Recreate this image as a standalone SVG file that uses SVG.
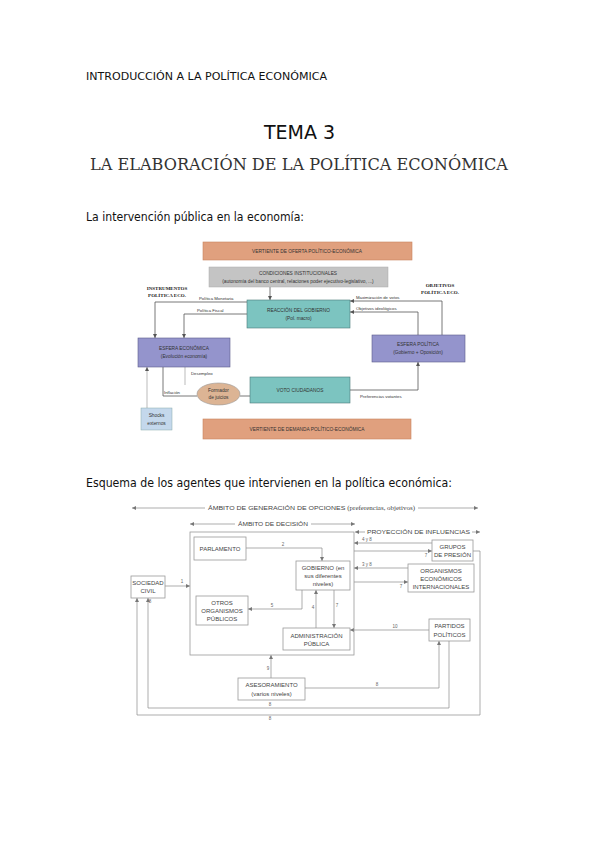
<svg xmlns="http://www.w3.org/2000/svg" width="599" height="848" viewBox="0 0 599 848">
<style>
.h{font-family:"DejaVu Sans",sans-serif;fill:#111}
.t{font-family:"Liberation Sans",Arial,sans-serif;fill:#333;font-size:4.8px;text-anchor:middle}
.ts{font-family:"Liberation Sans",Arial,sans-serif;fill:#333;font-size:4.3px}
.tb{font-family:"Liberation Serif",serif;font-weight:bold;fill:#222;font-size:5px;text-anchor:middle}
.b{font-family:"Liberation Sans",Arial,sans-serif;fill:#444;font-size:6px;text-anchor:middle}
.bs{font-family:"Liberation Sans",Arial,sans-serif;fill:#444;font-size:6px}
.n{font-family:"Liberation Sans",Arial,sans-serif;fill:#666;font-size:4.5px;text-anchor:middle}
.ln{fill:none;stroke:#555;stroke-width:0.8}
.ll{fill:none;stroke:#aaa;stroke-width:0.8}
.g{fill:none;stroke:#8a8a8a;stroke-width:0.7}
.bx{fill:#fff;stroke:#999;stroke-width:0.8}
</style>
<defs>
<marker id="a" viewBox="0 0 6 6" refX="6" refY="3" markerWidth="4" markerHeight="4" markerUnits="userSpaceOnUse" orient="auto"><path d="M0,0L6,3L0,6z" fill="#555"/></marker>
<marker id="ag" viewBox="0 0 6 6" refX="6" refY="3" markerWidth="4" markerHeight="4" markerUnits="userSpaceOnUse" orient="auto"><path d="M0,0L6,3L0,6z" fill="#777"/></marker>
</defs>
<rect width="599" height="848" fill="#fff"/>

<g id="header">
<text class="h" x="86" y="80" font-size="10" textLength="241" lengthAdjust="spacingAndGlyphs">INTRODUCCIÓN A LA POLÍTICA ECONÓMICA</text>
<text class="h" x="299.5" y="139" font-size="19" text-anchor="middle">TEMA 3</text>
<text x="299" y="170" font-family="DejaVu Serif,serif" font-size="17" fill="#333" text-anchor="middle" textLength="418" lengthAdjust="spacingAndGlyphs">LA ELABORACIÓN DE LA POLÍTICA ECONÓMICA</text>
<text class="h" x="86" y="221" font-size="12" textLength="218" lengthAdjust="spacingAndGlyphs">La intervención pública en la economía:</text>
<text class="h" x="86" y="487" font-size="12" textLength="366" lengthAdjust="spacingAndGlyphs">Esquema de los agentes que intervienen en la política económica:</text>
</g>

<g id="connectors-top">
<path class="ln" d="M270,287V300" marker-end="url(#a)"/>
<path class="ln" d="M247,302H155V338" marker-end="url(#a)"/>
<path class="ln" d="M247,314H184V338" marker-end="url(#a)"/>
<path class="ln" d="M442,335V301H350" marker-end="url(#a)"/>
<path class="ln" d="M418,335V312H350" marker-end="url(#a)"/>
<path class="ln" d="M350,390H418V362" marker-end="url(#a)"/>
<path class="ln" d="M163,367V396H197"/>
<path class="ll" d="M185,367V385"/>
<path class="ln" d="M240,396H250"/>
<path class="ll" d="M147,408V367" marker-end="url(#a)"/>
</g>

<g id="oferta"><rect x="203" y="242" width="209" height="18" fill="#e0a07e" stroke="#c8845e" stroke-width="0.6"/><text class="t" x="307" y="253" font-size="4.5">VERTIENTE DE OFERTA POLÍTICO-ECONÓMICA</text></g>
<g id="condiciones"><rect x="209" y="267" width="179" height="20" fill="#c4c4c4" stroke="#aaa" stroke-width="0.5"/><text class="t" x="298" y="275" font-size="4.5">CONDICIONES INSTITUCIONALES</text><text class="t" x="298" y="283" font-size="4">(autonomía del banco central, relaciones poder ejecutivo-legislativo, ...)</text></g>
<g id="instrumentos"><text class="tb" x="167" y="290">INSTRUMENTOS</text><text class="tb" x="167" y="297">POLÍTICA ECO.</text></g>
<g id="objetivos"><text class="tb" x="440" y="287">OBJETIVOS</text><text class="tb" x="440" y="294">POLÍTICA ECO.</text></g>
<g id="labels-top">
<text class="ts" x="199" y="299.5">Política Monetaria</text>
<text class="ts" x="197" y="312">Política Fiscal</text>
<text class="ts" x="356" y="299">Maximización de votos</text>
<text class="ts" x="356" y="310">Objetivos ideológicos</text>
<text class="ts" x="191" y="375">Desempleo</text>
<text class="ts" x="164" y="394">Inflación</text>
<text class="ts" x="360" y="398">Preferencias votantes</text>
</g>
<g id="reaccion"><rect x="247" y="300" width="103" height="28" fill="#7cc4c0" stroke="#4a7a78" stroke-width="0.6"/><text class="t" x="298.5" y="312" font-size="5.2">REACCIÓN DEL GOBIERNO</text><text class="t" x="298.5" y="320" font-size="5.2">(Pol. macro)</text></g>
<g id="esfera-economica"><rect x="138" y="338" width="92" height="29" fill="#9494cc" stroke="#5a5a8a" stroke-width="0.6"/><text class="t" x="184" y="350" font-size="5.2">ESFERA ECONÓMICA</text><text class="t" x="184" y="358" font-size="5.2">(Evolución economía)</text></g>
<g id="esfera-politica"><rect x="372" y="335" width="93" height="27" fill="#9494cc" stroke="#5a5a8a" stroke-width="0.6"/><text class="t" x="418" y="346" font-size="5.2">ESFERA POLÍTICA</text><text class="t" x="418" y="354" font-size="5.2">(Gobierno + Oposición)</text></g>
<g id="formador"><ellipse cx="218.5" cy="394" rx="21.5" ry="11" fill="#dcb494" stroke="#999" stroke-width="0.6"/><text class="t" x="218.5" y="392" font-size="4">Formador</text><text class="t" x="218.5" y="399" font-size="4">de juicios</text></g>
<g id="voto"><rect x="250" y="377" width="100" height="26" fill="#7cc4c0" stroke="#4a7a78" stroke-width="0.6"/><text class="t" x="300" y="392" font-size="5.2">VOTO CIUDADANOS</text></g>
<g id="shocks"><rect x="141" y="408" width="31" height="22" fill="#c4d8ec" stroke="#8aa" stroke-width="0.5"/><text class="t" x="156.5" y="417" font-size="4.5">Shocks</text><text class="t" x="156.5" y="425" font-size="4.5">externos</text></g>
<g id="demanda"><rect x="203" y="419" width="208" height="20" fill="#e0a07e" stroke="#c8845e" stroke-width="0.6"/><text class="t" x="307" y="431" font-size="4.5">VERTIENTE DE DEMANDA POLÍTICO-ECONÓMICA</text></g>

<g id="connectors-bottom">
<path class="g" d="M205,508H132" marker-end="url(#ag)"/>
<path class="g" d="M418,508H478" marker-end="url(#ag)"/>
<path class="g" d="M235,524H190" marker-end="url(#ag)"/>
<path class="g" d="M311,524H355" marker-end="url(#ag)"/>
<path class="g" d="M365,532H355" marker-end="url(#ag)"/>
<path class="g" d="M472,532H480" marker-end="url(#ag)"/>
<path class="g" d="M246,548H322V561" marker-end="url(#ag)"/>
<path class="g" d="M302,590V609H248" marker-end="url(#ag)"/>
<path class="g" d="M316,628V590" marker-end="url(#ag)" marker-start="url(#ag)"/>
<path class="g" d="M334,590V628" marker-end="url(#ag)"/>
<path class="g" d="M165,586H190" marker-end="url(#ag)"/>
<path class="g" d="M432,543H354" marker-end="url(#ag)"/>
<path class="g" d="M354,551H432" marker-end="url(#ag)"/>
<path class="g" d="M408,568H354" marker-end="url(#ag)"/>
<path class="g" d="M354,582H408" marker-end="url(#ag)"/>
<path class="g" d="M429,630H350" marker-end="url(#ag)"/>
<path class="g" d="M271,678V655" marker-end="url(#ag)"/>
<path class="g" d="M305,688H439V641" marker-end="url(#ag)"/>
<path class="g" d="M449,641V708H148V598" marker-end="url(#ag)"/>
<path class="g" d="M473,551H480V715H137V598" marker-end="url(#ag)"/>
</g>
<g id="labels-bottom">
<text class="n" x="283" y="546">2</text>
<text class="n" x="272" y="607">5</text>
<text class="n" x="313" y="609">4</text>
<text class="n" x="337" y="607">7</text>
<text class="n" x="182" y="583">1</text>
<text class="n" x="367" y="541">4 y 8</text>
<text class="n" x="426" y="557">7</text>
<text class="n" x="367" y="566">3 y 8</text>
<text class="n" x="401" y="588">7</text>
<text class="n" x="395" y="628">10</text>
<text class="n" x="268" y="670">9</text>
<text class="n" x="377" y="686">8</text>
<text class="n" x="150" y="603">8</text>
<text class="n" x="270" y="706">8</text>
<text class="n" x="270" y="720">8</text>
</g>
<g id="titles-bottom">
<text class="bs" x="208" y="510" textLength="207" lengthAdjust="spacingAndGlyphs">ÁMBITO DE GENERACIÓN DE OPCIONES <tspan font-family="Liberation Serif,serif">(preferencias, objetivos)</tspan></text>
<text class="bs" x="238" y="526" textLength="70" lengthAdjust="spacingAndGlyphs">ÁMBITO DE DECISIÓN</text>
<text class="bs" x="367" y="534" textLength="103" lengthAdjust="spacingAndGlyphs">PROYECCIÓN DE INFLUENCIAS</text>
</g>
<g id="decision"><rect x="190" y="532" width="164" height="123" fill="none" stroke="#999" stroke-width="0.8"/></g>
<g id="parlamento"><rect class="bx" x="194" y="537" width="52" height="23"/><text class="b" x="220" y="551">PARLAMENTO</text></g>
<g id="gobierno"><rect class="bx" x="296" y="561" width="54" height="29"/><text class="b" x="323" y="570">GOBIERNO (en</text><text class="b" x="323" y="578">sus diferentes</text><text class="b" x="323" y="586">niveles)</text></g>
<g id="otros"><rect class="bx" x="196" y="596" width="52" height="29"/><text class="b" x="222" y="605">OTROS</text><text class="b" x="222" y="613">ORGANISMOS</text><text class="b" x="222" y="621">PÚBLICOS</text></g>
<g id="administracion"><rect class="bx" x="283" y="628" width="67" height="22"/><text class="b" x="316.5" y="638">ADMINISTRACIÓN</text><text class="b" x="316.5" y="646">PÚBLICA</text></g>
<g id="grupos"><rect class="bx" x="432" y="540" width="41" height="21"/><text class="b" x="452.5" y="549">GRUPOS</text><text class="b" x="452.5" y="557">DE PRESIÓN</text></g>
<g id="organismos"><rect class="bx" x="408" y="564" width="66" height="28"/><text class="b" x="441" y="573">ORGANISMOS</text><text class="b" x="441" y="581">ECONÓMICOS</text><text class="b" x="441" y="589">INTERNACIONALES</text></g>
<g id="partidos"><rect class="bx" x="429" y="619" width="41" height="22"/><text class="b" x="449.5" y="628">PARTIDOS</text><text class="b" x="449.5" y="637">POLÍTICOS</text></g>
<g id="sociedad"><rect class="bx" x="131" y="576" width="34" height="22"/><text class="b" x="148" y="585">SOCIEDAD</text><text class="b" x="148" y="593">CIVIL</text></g>
<g id="asesoramiento"><rect class="bx" x="238" y="678" width="67" height="22"/><text class="b" x="271.5" y="687">ASESORAMIENTO</text><text class="b" x="271.5" y="696">(varios niveles)</text></g>
</svg>
